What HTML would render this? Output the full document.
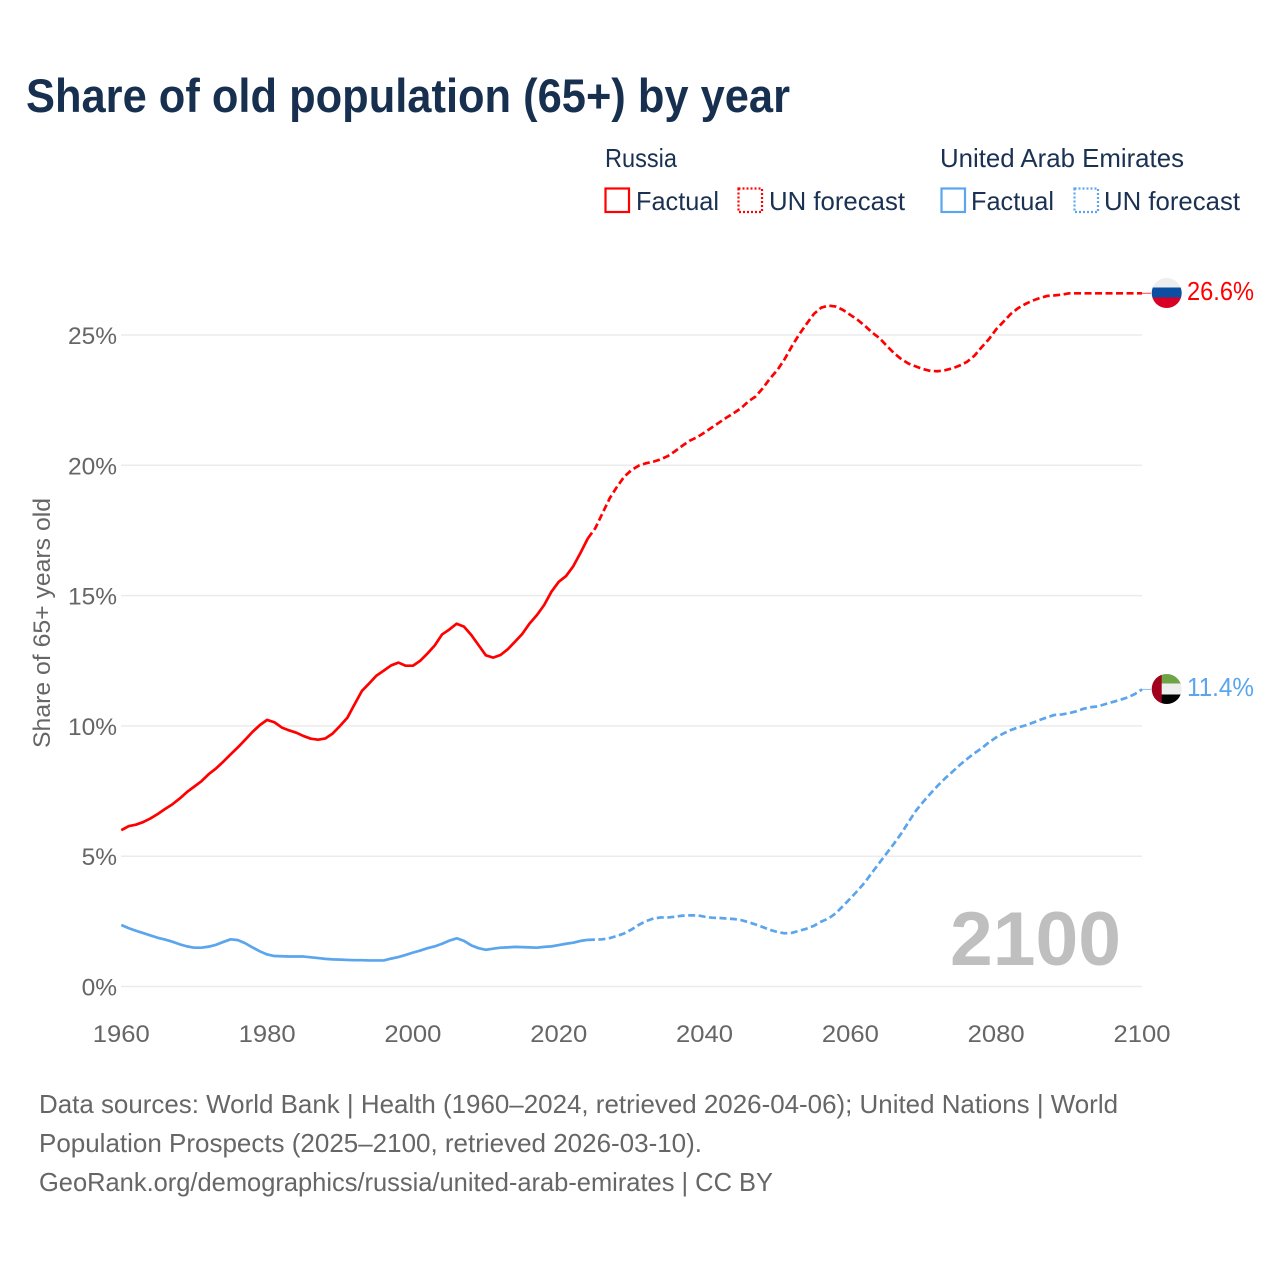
<!DOCTYPE html>
<html lang="en">
<head>
<meta charset="utf-8">
<title>Share of old population (65+) by year</title>
<style>
  html, body { margin: 0; padding: 0; background: #fff; }
  #chart { display: block; width: 1280px; height: 1280px; font-family: "Liberation Sans", sans-serif; }
  .legend { fill: #1a3152; font-size: 26px; }
  .foot { fill: #666; font-size: 26px; }
  .tick { fill: #666; font-size: 24.5px; }
</style>
</head>
<body>
<svg id="chart" xmlns="http://www.w3.org/2000/svg" width="1280" height="1280" viewBox="0 0 1280 1280">
  <rect width="1280" height="1280" fill="#fff"/>
  <text x="26" y="112" font-size="47" font-weight="700" fill="#17304f" textLength="764" lengthAdjust="spacingAndGlyphs">Share of old population (65+) by year</text>

  <text class="legend" x="605" y="167" textLength="72" lengthAdjust="spacingAndGlyphs">Russia</text>
  <rect x="605.5" y="188.5" width="23.5" height="23.5" fill="none" stroke="#ff0000" stroke-width="2.2"/>
  <text class="legend" x="636" y="210" textLength="83" lengthAdjust="spacingAndGlyphs">Factual</text>
  <rect x="738.5" y="188.5" width="23.5" height="23.5" fill="none" stroke="#ff0000" stroke-width="2.2" stroke-dasharray="2 2"/>
  <text class="legend" x="769" y="210" textLength="136" lengthAdjust="spacingAndGlyphs">UN forecast</text>

  <text class="legend" x="940" y="167" textLength="244" lengthAdjust="spacingAndGlyphs">United Arab Emirates</text>
  <rect x="941.5" y="188.5" width="23.5" height="23.5" fill="none" stroke="#5aa5ee" stroke-width="2.2"/>
  <text class="legend" x="971" y="210" textLength="83" lengthAdjust="spacingAndGlyphs">Factual</text>
  <rect x="1074.5" y="188.5" width="23.5" height="23.5" fill="none" stroke="#5aa5ee" stroke-width="2.2" stroke-dasharray="2 2"/>
  <text class="legend" x="1104" y="210" textLength="136" lengthAdjust="spacingAndGlyphs">UN forecast</text>

  <g id="grid"></g>
  <g id="yticks"></g>
  <g id="xticks"></g>
  <text transform="translate(50,623) rotate(-90)" text-anchor="middle" font-size="24.5" fill="#666" textLength="250" lengthAdjust="spacingAndGlyphs">Share of 65+ years old</text>

  <text x="950" y="965" font-size="76" font-weight="700" fill="#bfbfbf" textLength="171" lengthAdjust="spacingAndGlyphs">2100</text>

  <g id="series"></g>

  <g>
    <clipPath id="clip-ru"><circle cx="1166.7" cy="293" r="15"/></clipPath>
    <g clip-path="url(#clip-ru)">
      <rect x="1150" y="276" width="34" height="12" fill="#eeeeee"/>
      <rect x="1150" y="287.5" width="34" height="10.5" fill="#0b4ea2"/>
      <rect x="1150" y="297.5" width="34" height="12" fill="#d80027"/>
    </g>
  </g>
  <g>
    <clipPath id="clip-ae"><circle cx="1166.7" cy="689" r="15"/></clipPath>
    <g clip-path="url(#clip-ae)">
      <rect x="1150" y="672" width="34" height="12" fill="#6da544"/>
      <rect x="1150" y="683.5" width="34" height="11" fill="#eeeeee"/>
      <rect x="1150" y="694.5" width="34" height="11" fill="#000000"/>
      <rect x="1150" y="672" width="11.7" height="34" fill="#a2001d"/>
    </g>
  </g>

  <text x="1187" y="300" font-size="26" fill="#ff0000" textLength="67" lengthAdjust="spacingAndGlyphs">26.6%</text>
  <text x="1187" y="696" font-size="26" fill="#5aa5ee" textLength="67" lengthAdjust="spacingAndGlyphs">11.4%</text>

  <text class="foot" x="39" y="1113" textLength="1079" lengthAdjust="spacingAndGlyphs">Data sources: World Bank | Health (1960–2024, retrieved 2026-04-06); United Nations | World</text>
  <text class="foot" x="39" y="1152" textLength="663" lengthAdjust="spacingAndGlyphs">Population Prospects (2025–2100, retrieved 2026-03-10).</text>
  <text class="foot" x="39" y="1191" textLength="734" lengthAdjust="spacingAndGlyphs">GeoRank.org/demographics/russia/united-arab-emirates | CC BY</text>
</svg>
<script>
const xTickLabels = [1960, 1980, 2000, 2020, 2040, 2060, 2080, 2100];
const yTickValues = [0, 5, 10, 15, 20, 25];
const factualStartYear = 1960;
const forecastStartYear = 2024;

const russiaFactual = [6.00,6.15,6.21,6.31,6.45,6.62,6.81,6.99,7.21,7.46,7.67,7.88,8.15,8.37,8.63,8.91,9.18,9.47,9.77,10.03,10.23,10.14,9.94,9.83,9.74,9.61,9.51,9.47,9.52,9.71,10.00,10.31,10.83,11.34,11.63,11.93,12.12,12.32,12.43,12.31,12.31,12.50,12.78,13.09,13.51,13.70,13.92,13.81,13.49,13.10,12.71,12.62,12.72,12.94,13.23,13.53,13.93,14.25,14.64,15.15,15.53,15.75,16.13,16.65,17.20];

const russiaForecast = [17.20,17.58,18.16,18.74,19.18,19.57,19.82,19.99,20.08,20.14,20.23,20.36,20.55,20.76,20.95,21.08,21.26,21.45,21.64,21.83,22.00,22.19,22.45,22.64,22.96,23.34,23.66,24.08,24.58,25.03,25.43,25.81,26.05,26.13,26.09,25.96,25.77,25.58,25.35,25.09,24.88,24.58,24.30,24.07,23.90,23.79,23.69,23.62,23.61,23.65,23.72,23.83,23.97,24.20,24.53,24.84,25.22,25.51,25.81,26.03,26.19,26.32,26.42,26.50,26.52,26.55,26.60,26.60,26.60,26.60,26.60,26.60,26.60,26.60,26.60,26.60,26.60];

const uaeFactual = [2.36,2.24,2.14,2.05,1.96,1.87,1.80,1.72,1.62,1.54,1.49,1.49,1.53,1.60,1.71,1.81,1.78,1.66,1.50,1.35,1.23,1.17,1.16,1.15,1.15,1.15,1.12,1.09,1.06,1.04,1.03,1.02,1.01,1.01,1.00,1.00,1.00,1.07,1.13,1.21,1.30,1.38,1.47,1.54,1.64,1.76,1.85,1.75,1.58,1.47,1.41,1.45,1.49,1.50,1.52,1.51,1.50,1.49,1.52,1.54,1.59,1.64,1.68,1.75,1.79];

const uaeForecast = [1.79,1.80,1.81,1.86,1.94,2.04,2.19,2.37,2.51,2.61,2.65,2.65,2.68,2.72,2.73,2.73,2.68,2.64,2.63,2.61,2.59,2.55,2.47,2.38,2.28,2.17,2.09,2.04,2.06,2.14,2.22,2.33,2.49,2.61,2.81,3.09,3.38,3.68,4.00,4.38,4.75,5.12,5.49,5.88,6.32,6.75,7.09,7.41,7.71,7.99,8.24,8.50,8.73,8.95,9.14,9.37,9.56,9.71,9.84,9.94,10.02,10.12,10.23,10.33,10.42,10.44,10.49,10.56,10.66,10.72,10.75,10.84,10.92,11.00,11.09,11.22,11.40];

const NS = 'http://www.w3.org/2000/svg';
const xScale = function (year) { return 121.3 + (year - 1960) * (1142 - 121.3) / 140; };
const yScale = function (value) { return 986.5 - value * 26.06; };

function make(tag, parentId, attrs) {
  const el = document.createElementNS(NS, tag);
  Object.keys(attrs).forEach(function (k) { el.setAttribute(k, attrs[k]); });
  document.getElementById(parentId).appendChild(el);
  return el;
}

yTickValues.forEach(function (v) {
  const line = make('line', 'grid', { x1: 121, x2: 1142, y1: yScale(v), y2: yScale(v), stroke: '#ebebeb', 'stroke-width': 1.5 });
  
  
  const t = make('text', 'yticks', { x: 117, y: yScale(v) + 9, 'text-anchor': 'end', class: 'tick' });
  t.textContent = v + '%';
  
  
});

xTickLabels.forEach(function (year) {
  const t = make('text', 'xticks', { x: xScale(year), y: 1042, 'text-anchor': 'middle', class: 'tick', textLength: 57, lengthAdjust: 'spacingAndGlyphs' });
  t.textContent = year;
  
  
});

function drawSeries(values, startYear, color, dashed, name) {
  const pts = values.map(function (v, i) {
    return xScale(startYear + i).toFixed(2) + ',' + yScale(v).toFixed(2);
  }).join(' ');
  const attrs = { points: pts, fill: 'none', stroke: color, 'stroke-width': 2.7, 'stroke-linejoin': 'round' };
  if (dashed) { attrs['stroke-dasharray'] = '7 3.5'; }
  const line = make('polyline', 'series', attrs);
  
  
}

function drawConnector(value, color, name) {
  const c = make('line', 'series', { x1: xScale(2100), x2: 1151, y1: yScale(value), y2: yScale(value), stroke: color, 'stroke-width': 1, opacity: 0.7 });
  
  
}

drawSeries(russiaFactual, factualStartYear, '#ff0000', false, 'line-russia-factual');
drawSeries(russiaForecast, forecastStartYear, '#ff0000', true, 'line-russia-forecast');
drawSeries(uaeFactual, factualStartYear, '#5aa5ee', false, 'line-uae-factual');
drawSeries(uaeForecast, forecastStartYear, '#5aa5ee', true, 'line-uae-forecast');
drawConnector(russiaForecast[russiaForecast.length - 1], '#ff0000', 'connector-russia');
drawConnector(uaeForecast[uaeForecast.length - 1], '#5aa5ee', 'connector-uae');
</script>
</body>
</html>
